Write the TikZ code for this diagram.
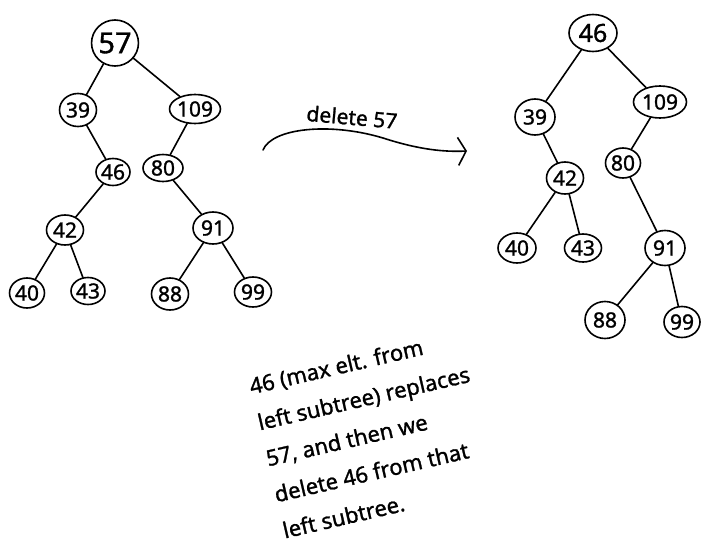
\documentclass[tikz,border=0pt]{standalone}
\usepackage{fontspec}
\setmainfont{Noto Sans}[FakeBold=1.2]
\usetikzlibrary{shapes.geometric,arrows.meta}
\begin{document}
\begin{tikzpicture}[x=1pt,y=-1pt,
  nd/.style={ellipse, draw, line width=1.6pt, inner sep=0pt, font=\fontsize{21}{23}\selectfont},
  sz/.style 2 args={minimum width=#1, minimum height=#2},
  ed/.style={line width=1.6pt, line cap=round},
  txt/.style={font=\fontsize{22}{37}\selectfont}]
\useasboundingbox (0,0) rectangle (718,552);
% left tree
\node[nd, sz={42}{46}, font=\fontsize{29}{31}\selectfont] (L57) at (115,43) {57};
\node[nd, sz={37}{33}] (L39) at (78,110) {39};
\node[nd, sz={47}{29}] (L109) at (195,109) {109};
\node[nd, sz={34}{27}] (L46) at (113,172) {46};
\node[nd, sz={40}{27}] (L80) at (163,168) {80};
\node[nd, sz={37}{30}] (L42) at (65,230) {42};
\node[nd, sz={40}{32}] (L91) at (213,228) {91};
\node[nd, sz={35}{30}] (L40) at (27,293) {40};
\node[nd, sz={34}{27}] (L43) at (88,291) {43};
\node[nd, sz={37}{32}] (L88) at (170,294) {88};
\node[nd, sz={37}{30}] (L99) at (253,292) {99};
\draw[ed] (L57) -- (L39);
\draw[ed] (L57) -- (L109);
\draw[ed] (L39) -- (L46);
\draw[ed] (L46) -- (L42);
\draw[ed] (L42) -- (L40);
\draw[ed] (L42) -- (L43);
\draw[ed] (L109) -- (L80);
\draw[ed] (L80) -- (L91);
\draw[ed] (L91) -- (L88);
\draw[ed] (L91) -- (L99);
% right tree
\node[nd, sz={48}{37}, font=\fontsize{25}{27}\selectfont] (R46) at (593,33) {46};
\node[nd, sz={40}{36}] (R39) at (535,117) {39};
\node[nd, sz={53}{32}] (R109) at (660,102) {109};
\node[nd, sz={37}{32}] (R42) at (565,178) {42};
\node[nd, sz={35}{30}] (R80) at (623,163) {80};
\node[nd, sz={38}{30}] (R40) at (517,248) {40};
\node[nd, sz={37}{28}] (R43) at (583,248) {43};
\node[nd, sz={40}{35}] (R91) at (665,248) {91};
\node[nd, sz={40}{37}] (R88) at (605,320) {88};
\node[nd, sz={36}{31}] (R99) at (682,322) {99};
\draw[ed] (R46) -- (R39);
\draw[ed] (R46) -- (R109);
\draw[ed] (R39) -- (R42);
\draw[ed] (R42) -- (R40);
\draw[ed] (R42) -- (R43);
\draw[ed] (R109) -- (R80);
\draw[ed] (R80) -- (R91);
\draw[ed] (R91) -- (R88);
\draw[ed] (R91) -- (R99);
% arrow
\coordinate (as) at (263,150);
\coordinate (ae) at (467,151);
\draw[ed, -{Straight Barb[length=8pt,width=28pt,line width=1.6pt]}] (as) .. controls (272,128) and (330,122) .. (383,138) .. controls (420,150) and (445,152) .. (ae);
\node[txt, font=\fontsize{21}{23}\selectfont, rotate=-5] (lbl) at (352,117) {delete 57};
% note
\node[txt, align=left, rotate=13] (note) at (372,434) {46 (max elt. from\\left subtree) replaces\\57, and then we\\delete 46 from that\\left subtree.};
\end{tikzpicture}
\end{document}
